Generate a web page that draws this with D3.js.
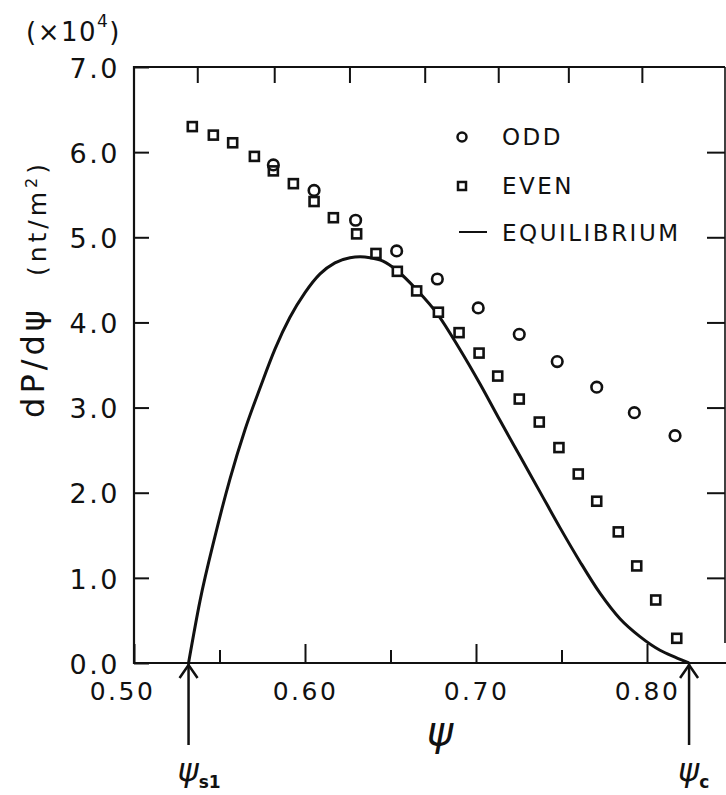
<!DOCTYPE html>
<html>
<head>
<meta charset="utf-8">
<script src="https://cdn.jsdelivr.net/npm/d3@7"></script>
<style>
  body { margin: 0; background: #fff; }
  svg { display: block; }
  text { font-family: "DejaVu Sans", "Liberation Sans", sans-serif; fill: #111; }
</style>
</head>
<body>
<script>
// data (psi, dP/dpsi in units of 1e4 nt/m^2)
var oddPsi  = [0.5815, 0.6053, 0.6296, 0.6536, 0.6774, 0.7013, 0.7253, 0.7475, 0.7706, 0.7926, 0.8164];
var oddVal  = [5.85, 5.55, 5.20, 4.84, 4.51, 4.17, 3.86, 3.54, 3.24, 2.94, 2.67];

var evenPsi = [0.5341, 0.5464, 0.5577, 0.5704, 0.5815, 0.5932, 0.6053, 0.6166, 0.6302, 0.6415, 0.6540, 0.6653, 0.6780,
               0.6901, 0.7018, 0.7127, 0.7253, 0.7370, 0.7485, 0.7598, 0.7706, 0.7832, 0.7940, 0.8051, 0.8174];
var evenVal = [6.30, 6.20, 6.11, 5.95, 5.78, 5.63, 5.42, 5.23, 5.04, 4.81, 4.60, 4.37, 4.12,
               3.88, 3.64, 3.37, 3.10, 2.83, 2.53, 2.22, 1.90, 1.54, 1.14, 0.74, 0.29];

var eqPsi = [0.5319, 0.5386, 0.5474, 0.5561, 0.5649, 0.5737, 0.5825, 0.5912, 0.6000, 0.6088, 0.6175, 0.6263,
             0.6322, 0.6380, 0.6456, 0.6538, 0.6655, 0.6778, 0.6901, 0.7023, 0.7140, 0.7257, 0.7374, 0.7491,
             0.7608, 0.7725, 0.7842, 0.7959, 0.8076, 0.8164, 0.8246];
var eqVal = [0.00, 0.73, 1.49, 2.16, 2.74, 3.23, 3.69, 4.06, 4.35, 4.57, 4.70, 4.76,
             4.77, 4.76, 4.72, 4.61, 4.38, 4.09, 3.70, 3.28, 2.85, 2.43, 2.01, 1.59,
             1.19, 0.82, 0.52, 0.31, 0.15, 0.07, 0.00];

var xMajor = [0.50, 0.60, 0.70, 0.80];
var xMinor = [0.55, 0.65, 0.75];
var xTop   = [0.537, 0.582, 0.626, 0.670, 0.713, 0.754, 0.797];
var yTicks = [0, 1, 2, 3, 4, 5, 6, 7];
var psiS1 = 0.5319, psiC = 0.8246;

var width = 726, height = 795;
var mLeft = 134, mTop = 67, mRight = 725, mBottom = 663;

var x = d3.scaleLinear().domain([0.5, 0.8]).range([mLeft, 647]);
var y = d3.scaleLinear().domain([0, 7]).range([mBottom, mTop]);

var svg = d3.select("body").append("svg")
    .attr("width", width)
    .attr("height", height);

var ink = "#111";

// frame
svg.append("path")
    .attr("d", `M${mRight},${mTop} L${mLeft},${mTop} L${mLeft},${mBottom} L${width},${mBottom}`)
    .attr("fill", "none")
    .attr("stroke", ink)
    .attr("stroke-width", 2.2);
svg.append("line")
    .attr("x1", mRight).attr("x2", mRight)
    .attr("y1", mTop).attr("y2", mBottom - 20)
    .attr("stroke", ink).attr("stroke-width", 1.6);

// bottom axis
var gx = svg.append("g")
    .attr("transform", `translate(0,${mBottom})`)
    .call(d3.axisBottom(x).tickValues(xMajor).tickSize(-19).tickPadding(19).tickFormat(d3.format(".2f")));
gx.append("g")
    .call(d3.axisBottom(x).tickValues(xMinor).tickSize(-13).tickFormat(""));
gx.selectAll(".domain").remove();
gx.selectAll("line").attr("stroke", ink).attr("stroke-width", 2);
gx.selectAll("text")
    .attr("fill", ink)
    .style("font-size", "25px")
    .style("letter-spacing", "2.5px")
    .attr("dx", d => d === 0.5 ? -12 : 0);

// top axis ticks
var gt = svg.append("g")
    .attr("transform", `translate(0,${mTop})`)
    .call(d3.axisTop(x).tickValues(xTop).tickSize(-16).tickFormat(""));
gt.selectAll(".domain").remove();
gt.selectAll("line").attr("stroke", ink).attr("stroke-width", 2);

// left axis
var gy = svg.append("g")
    .attr("transform", `translate(${mLeft},0)`)
    .call(d3.axisLeft(y).tickValues(yTicks).tickSize(-15).tickPadding(14).tickFormat(d3.format(".1f")));
gy.selectAll(".domain").remove();
gy.selectAll("line").attr("stroke", ink).attr("stroke-width", 2);
gy.selectAll("text")
    .attr("fill", ink)
    .attr("dy", "0.38em")
    .style("font-size", "27px")
    .style("letter-spacing", "2.5px");

// right axis ticks
var gr = svg.append("g")
    .attr("transform", `translate(${mRight},0)`)
    .call(d3.axisRight(y).tickValues(yTicks.slice(1, 7)).tickSize(-18).tickFormat(""));
gr.selectAll(".domain").remove();
gr.selectAll("line").attr("stroke", ink).attr("stroke-width", 2);

// equilibrium curve
var line = d3.line()
    .x((d, i) => x(eqPsi[i]))
    .y(d => y(d))
    .curve(d3.curveMonotoneX);
svg.append("path")
    .datum(eqVal)
    .attr("d", line)
    .attr("fill", "none")
    .attr("stroke", ink)
    .attr("stroke-width", 3);

// even: squares
svg.append("g")
    .selectAll("rect")
    .data(evenVal)
    .enter()
    .append("rect")
      .attr("x", (d, i) => x(evenPsi[i]) - 4.5)
      .attr("y", d => y(d) - 4.5)
      .attr("width", 9)
      .attr("height", 9)
      .attr("fill", "#fff")
      .attr("stroke", ink)
      .attr("stroke-width", 2.6);

// odd: circles
svg.append("g")
    .selectAll("circle")
    .data(oddVal)
    .enter()
    .append("circle")
      .attr("cx", (d, i) => x(oddPsi[i]))
      .attr("cy", d => y(d))
      .attr("r", 5.3)
      .attr("fill", "none")
      .attr("stroke", ink)
      .attr("stroke-width", 2.6);

// legend
var lg = svg.append("g").style("font-size", "23px").style("letter-spacing", "2.5px");
lg.append("circle").attr("cx", 462).attr("cy", 137).attr("r", 4.5)
    .attr("fill", "none").attr("stroke", ink).attr("stroke-width", 2.5);
lg.append("text").attr("x", 502).attr("y", 145).text("ODD");
lg.append("rect").attr("x", 458).attr("y", 182).attr("width", 8).attr("height", 8)
    .attr("fill", "#fff").attr("stroke", ink).attr("stroke-width", 2.5);
lg.append("text").attr("x", 502).attr("y", 194).text("EVEN");
lg.append("line").attr("x1", 459).attr("x2", 487).attr("y1", 232).attr("y2", 232)
    .attr("stroke", ink).attr("stroke-width", 2);
lg.append("text").attr("x", 502).attr("y", 241).text("EQUILIBRIUM");

// axis titles
svg.append("text")
    .attr("transform", "translate(44,362) rotate(-90)")
    .attr("text-anchor", "middle")
    .style("font-size", "32px")
    .style("letter-spacing", "4px")
    .text("dP/dψ");
svg.append("text")
    .attr("transform", "translate(46,218) rotate(-90)")
    .attr("text-anchor", "middle")
    .style("font-size", "25px")
    .style("letter-spacing", "4px")
    .html("(nt/m<tspan dy='-9' font-size='16px'>2</tspan><tspan dy='9'>)</tspan>");
svg.append("text")
    .attr("x", 26).attr("y", 41)
    .style("font-size", "26px")
    .style("letter-spacing", "1.5px")
    .html("(×10<tspan dy='-14' font-size='17px'>4</tspan><tspan dy='14'>)</tspan>");
svg.append("text")
    .attr("x", 440).attr("y", 745)
    .attr("text-anchor", "middle")
    .style("font-size", "40px")
    .style("font-style", "italic")
    .text("ψ");

// psi_s1 and psi_c arrows
[[psiS1, "s1"], [psiC, "c"]].forEach(function(p) {
  var px = x(p[0]);
  var a = svg.append("g").attr("stroke", ink).attr("stroke-width", 2.5).attr("fill", "none");
  a.append("line").attr("x1", px).attr("x2", px).attr("y1", 745).attr("y2", mBottom + 1);
  a.append("path").attr("d", `M${px - 9},${mBottom + 15} L${px},${mBottom + 2} L${px + 9},${mBottom + 15}`);
  var t = svg.append("text")
      .attr("x", px - 11).attr("y", 781)
      .style("font-size", "32px")
      .style("font-style", "italic");
  t.append("tspan").text("ψ");
  t.append("tspan").attr("dy", 7).style("font-size", "17px").style("font-style", "normal")
      .style("font-weight", "bold").text(p[1]);
});
</script>
</body>
</html>
